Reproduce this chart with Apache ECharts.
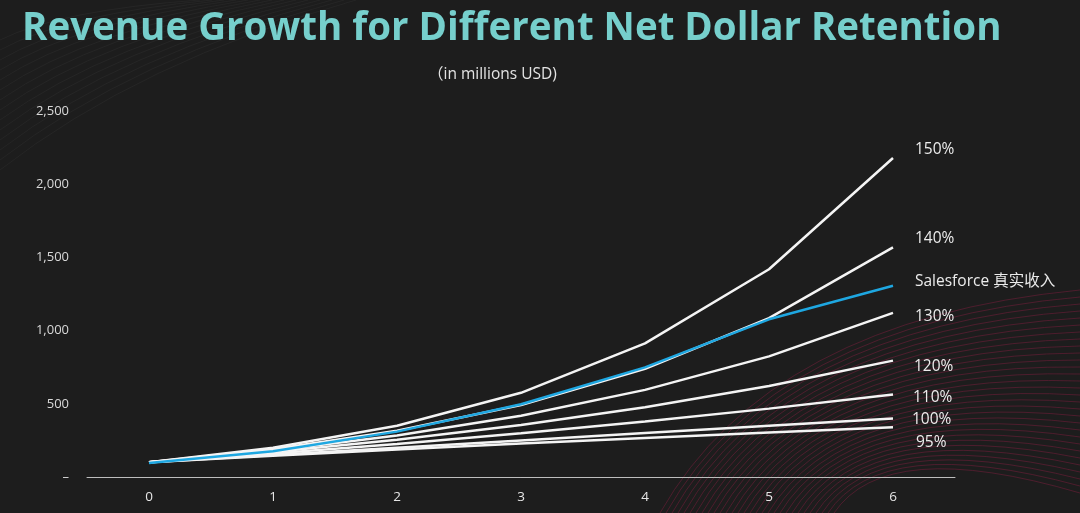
<!DOCTYPE html>
<html>
<head>
<meta charset="utf-8">
<title>Revenue Growth for Different Net Dollar Retention</title>
<script src="https://cdn.jsdelivr.net/npm/echarts@6/dist/echarts.min.js"></script>
<style>
  html, body { margin: 0; padding: 0; background: #1d1d1d; }
  #chart { width: 1080px; height: 513px; }
</style>
</head>
<body>
<div id="chart"></div>
<script>
  // years since start
  const years = ['0', '1', '2', '3', '4', '5', '6']

  // revenue in millions USD
  const ndr150 = [100, 200, 350, 575, 913, 1419, 2179]
  const ndr140 = [100, 190, 316, 492, 739, 1085, 1569]
  const ndr130 = [100, 180, 284, 419, 595, 824, 1121]
  const ndr120 = [100, 170, 254, 355, 476, 621, 795]
  const ndr110 = [100, 160, 226, 299, 379, 467, 564]
  const ndr100 = [100, 150, 200, 250, 300, 350, 400]
  const ndr95 = [100, 145, 188, 228, 267, 304, 340]
  const salesforce = [96, 176, 310, 497, 749, 1077, 1306]

  const seriesNames = ['150%', '140%', '130%', '120%', '110%', '100%', '95%', 'Salesforce 真实收入']
  const seriesValues = [ndr150, ndr140, ndr130, ndr120, ndr110, ndr100, ndr95, salesforce]

  // where each end label sits relative to the last point
  const labelOffsets = [[22, -8], [22, -9], [22, 4], [21, 6], [20, 3], [19, 1], [23, 15], [22, -4]]

  const fontFamily = "'Open Sans', 'Noto Sans CJK SC', sans-serif"

  const chart = echarts.init(document.getElementById('chart'))

  // faint swirl lines in the corners, just decoration
  const decor = []
  for (let i = 0; i < 30; i++) {
    decor.push({
      type: 'bezierCurve',
      silent: true,
      shape: {
        x1: 660 + i * 6, y1: 513,
        cpx1: 770 + i * 4, cpy1: 320 + i * 4,
        x2: 1080, y2: 290 + i * 7
      },
      style: { stroke: 'rgba(125, 30, 62, 0.5)', lineWidth: 1, fill: null }
    })
  }
  for (let i = 0; i < 14; i++) {
    decor.push({
      type: 'bezierCurve',
      silent: true,
      shape: {
        x1: 0, y1: 40 + i * 10,
        cpx1: 60 + i * 6, cpy1: 10 + i * 4,
        x2: 200 + i * 12, y2: 0
      },
      style: { stroke: 'rgba(200, 200, 200, 0.05)', lineWidth: 1, fill: null }
    })
  }

  chart.setOption({
    backgroundColor: '#1d1d1d',
    animation: false,
    textStyle: { fontFamily: fontFamily },
    graphic: decor,
    title: [{
      text: 'Revenue Growth for Different Net Dollar Retention',
      left: 17,
      top: 5,
      textStyle: {
        color: '#76cfcc',
        fontSize: 38.5,
        fontWeight: 'bold',
        fontFamily: fontFamily
      }
    }, {
      text: '（in millions USD)',
      left: 423,
      top: 62,
      textStyle: {
        color: '#e4e4e4',
        fontSize: 15.5,
        fontWeight: 'normal',
        fontFamily: fontFamily
      }
    }],
    grid: {
      left: 87,
      right: 125,
      top: 111,
      bottom: 36
    },
    xAxis: {
      type: 'category',
      data: years,
      boundaryGap: true,
      axisLine: { lineStyle: { color: '#bdbdbd', width: 1 } },
      axisTick: { show: false },
      axisLabel: { color: '#e6e6e6', fontSize: 13.5, margin: 13 }
    },
    yAxis: {
      type: 'value',
      min: 0,
      max: 2500,
      interval: 500,
      splitLine: { show: false },
      axisLine: { show: false },
      axisTick: { show: false },
      axisLabel: {
        color: '#d9d9d9',
        fontSize: 13,
        margin: 18,
        formatter: function (v) {
          return v === 0 ? '–' : v.toLocaleString('en-US')
        }
      }
    },
    series: seriesValues.map(function (vals, i) {
      const isSf = i === seriesValues.length - 1
      return {
        name: seriesNames[i],
        type: 'line',
        data: vals,
        showSymbol: false,
        symbol: 'none',
        z: isSf ? 5 : 3,
        lineStyle: {
          color: isSf ? '#1ea7e1' : '#f4f4f4',
          width: 2.5
        },
        endLabel: {
          show: true,
          formatter: seriesNames[i],
          color: '#ececec',
          fontSize: 15.5,
          fontFamily: fontFamily,
          distance: 0,
          offset: labelOffsets[i]
        }
      }
    })
  })
</script>
</body>
</html>
